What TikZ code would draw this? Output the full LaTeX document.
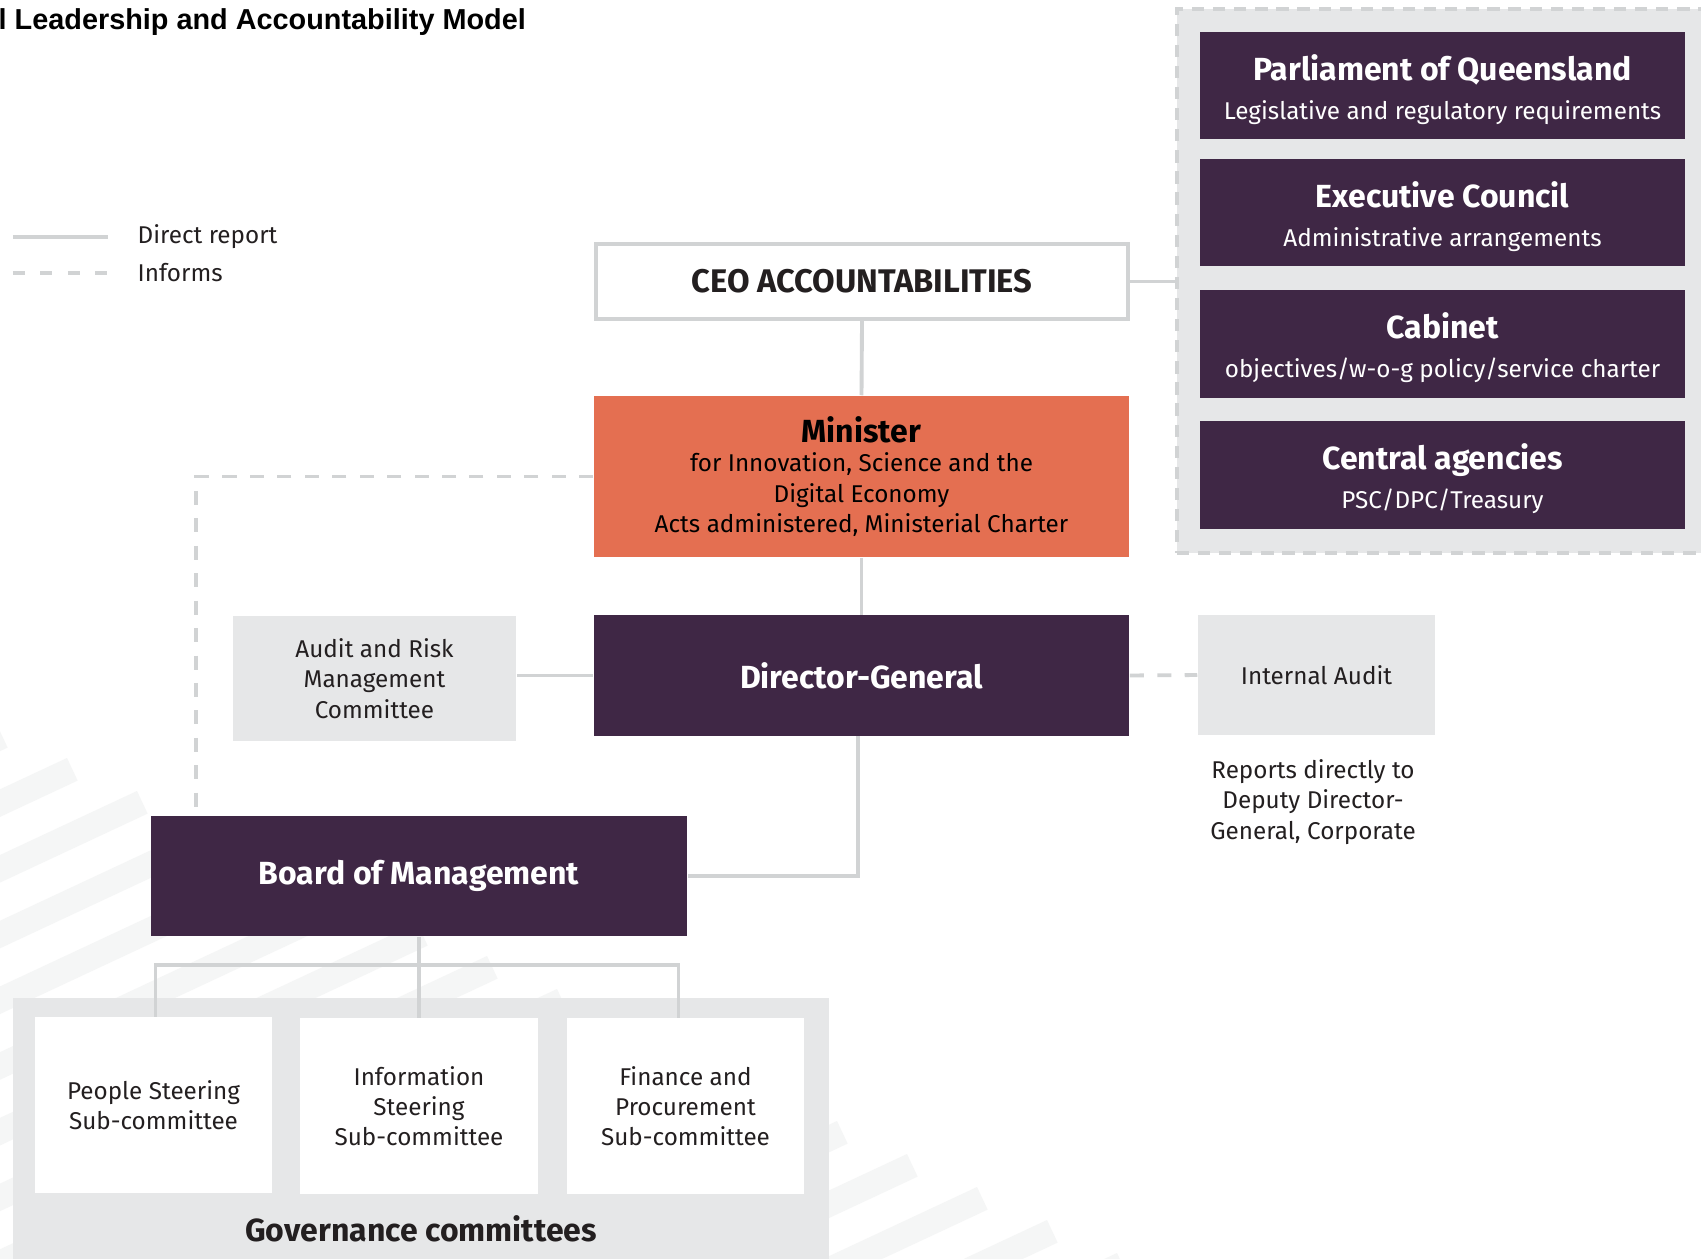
\documentclass[tikz,border=0pt]{standalone}
\usepackage{fontspec}
\setmainfont{Fira Sans}
\newfontfamily\titlefont{Liberation Sans}
\usetikzlibrary{calc}

\definecolor{plum}{HTML}{3F2745}
\definecolor{coral}{HTML}{E46F51}
\definecolor{panel}{HTML}{E6E7E8}
\definecolor{rule}{HTML}{D1D3D4}
\definecolor{stripe}{HTML}{F5F6F6}
\definecolor{ink}{HTML}{231F20}

\newcommand\boxhead{\bfseries\fontsize{9.1}{10.5}\selectfont}
\newcommand\boxbody{\fontsize{6.9}{8.6}\selectfont}

\begin{document}
\begin{tikzpicture}[x=0.01cm,y=-0.01cm,
  direct/.style={draw=rule,line width=1.1pt},
  informs/.style={direct,dash pattern=on 4pt off 3.8pt},
  darkbox/.style={fill=plum,text=white,inner sep=0,align=center},
  govbox/.style={darkbox,minimum width=4.85cm,minimum height=1.07cm},
  govtext/.style={text=white,inner sep=0,align=center,yshift=-0.038cm},
  greybox/.style={fill=panel,text=ink,inner sep=0,align=center,font=\boxbody},
  whitebox/.style={fill=white,text=ink,inner sep=0,align=center,font=\boxbody}]
\clip (0,0) rectangle (1701,1258);
\fill[white] (0,0) rectangle (1701,1258);

% faint stripes in the background
\foreach \k in {0,...,16}
  \fill[stripe] ({-3+70*\k},{725+33*\k}) -- ++(10.6,22.6) -- ++(-1087,508) -- ++(-10.6,-22.6) -- cycle;

\node[anchor=base west,inner sep=0,text=black] (title) at (-2,30)
  {\titlefont\bfseries\fontsize{8.2}{10}\selectfont l Leadership and Accountability Model};

% legend
\node[anchor=west,inner sep=0,text=ink,font=\boxbody] (lgdirect) at (137,237) {Direct report};
\node[anchor=west,inner sep=0,text=ink,font=\boxbody] (lginforms) at (137,273) {Informs};
\draw[direct] ([xshift=-1.24cm]lgdirect.west) -- ++(95,0);
\draw[informs,dash pattern=on 3.4pt off 4.4pt] ([xshift=-1.24cm]lginforms.west) -- ++(95,0);

% government side
\node[fill=panel,draw=rule,line width=1.3pt,dash pattern=on 3.5pt off 2.5pt,
  minimum width=5.43cm,minimum height=5.44cm] (gov) at (1448.5,281) {};
\node[govbox,label={[govtext]center:{{\boxhead Parliament of Queensland}\\[-1pt]\boxbody Legislative and regulatory requirements}}]
  (parl) at (1442.5,85.5) {};
\node[govbox,label={[govtext]center:{{\boxhead Executive Council}\\[-1pt]\boxbody Administrative arrangements}}]
  (excl) at (1442.5,212.5) {};
\node[govbox,label={[govtext]center:{{\boxhead Cabinet}\\[-1pt]\boxbody objectives/w-o-g policy/service charter}}]
  (cab) at (1442.5,344) {};
\node[govbox,label={[govtext]center:{{\boxhead Central agencies}\\[-1pt]\boxbody PSC/DPC/Treasury}}]
  (cent) at (1442.5,475) {};

% main chain
\node[whitebox,draw=rule,line width=1.1pt,minimum width=5.32cm,minimum height=0.75cm] (ceo)
  at (862,281.5) {\boxhead\fontsize{9.3}{10.5}\selectfont CEO ACCOUNTABILITIES};
\node[fill=coral,text=black,inner sep=0,align=center,font=\boxbody,
  minimum width=5.35cm,minimum height=1.61cm] (minister) at (861.5,476.5)
  {{\boxhead Minister}\\[-0.4pt]for Innovation, Science and the\\[0.3pt]Digital Economy\\Acts administered, Ministerial Charter};
\node[darkbox,minimum width=5.35cm,minimum height=1.2cm] (dg) at (861.5,675.5) {\boxhead Director-General};
\node[greybox,minimum width=2.83cm,minimum height=1.25cm] (arm) at (374.5,678.5)
  {Audit and Risk\\Management\\Committee};
\node[greybox,minimum width=2.37cm,minimum height=1.2cm] (ia) at (1316.5,675) {Internal Audit};
\node[text=ink,inner sep=0,align=center,font=\boxbody] (note) at (1313,802)
  {Reports directly to\\Deputy Director-\\General, Corporate};
\node[darkbox,minimum width=5.36cm,minimum height=1.2cm] (board) at (419,876) {\boxhead Board of Management};

% governance committees
\node[fill=panel,inner sep=0,minimum width=8.16cm,minimum height=2.72cm] (govc) at (421,1134) {};
\node[whitebox,minimum width=2.37cm,minimum height=1.75cm] (people) at (153.5,1105)
  {People Steering\\Sub-committee};
\node[whitebox,minimum width=2.37cm,minimum height=1.75cm] (info) at (419,1106)
  {Information\\Steering\\Sub-committee};
\node[whitebox,minimum width=2.37cm,minimum height=1.75cm] (fin) at (685.5,1106)
  {Finance and\\Procurement\\Sub-committee};
\node[text=ink,inner sep=0] (govlabel) at (421,1229) {\boxhead Governance committees};

% connectors
\draw[direct] (ceo.east) -- (ceo.east -| gov.west);
\draw[direct] (ceo.south) -- (minister.north);
\draw[informs] (minister.west) -| ([xshift=0.46cm]board.north west);
\draw[direct] (minister.south) -- (dg.north);
\draw[direct] (dg.west -| arm.east) -- (dg.west);
\draw[informs] (dg.east) -- (ia.west);
\draw[direct] ([xshift=-0.035cm]dg.south) |- (board.east);
\draw[direct] (board.south) -- (info.north);
\draw[direct] ([xshift=0.02cm]people.north) -- ++(0,-52) -| ([xshift=-0.07cm]fin.north);
\end{tikzpicture}
\end{document}
